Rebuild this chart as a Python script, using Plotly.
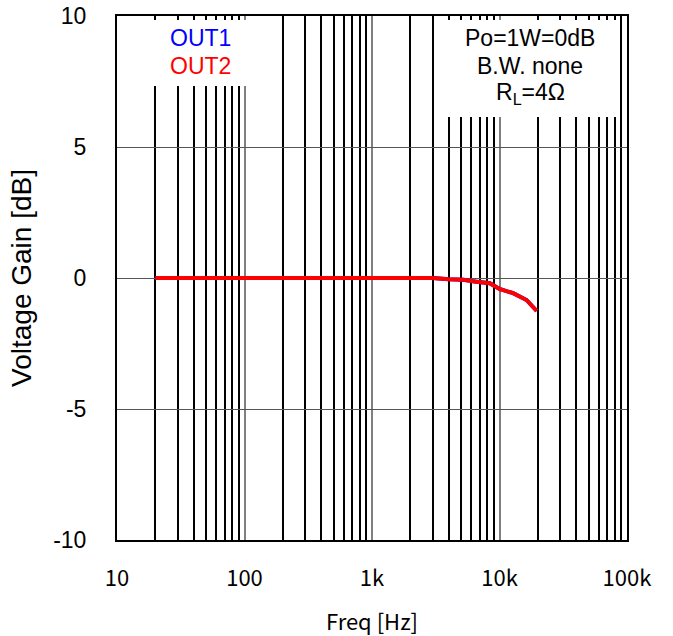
import plotly.graph_objects as go

# Data
freq_hz = [20, 50, 100, 200, 500, 1000, 2000, 3000, 4000, 5200, 6600, 8400, 10000, 12800, 16300, 19600]
gain_out1_db = [0, 0, 0, 0, 0, 0, 0, 0, -0.05, -0.07, -0.14, -0.2, -0.42, -0.58, -0.84, -1.26]
gain_out2_db = [0, 0, 0, 0, 0, 0, 0, 0, -0.05, -0.07, -0.14, -0.2, -0.42, -0.58, -0.84, -1.26]

x_tickvals = [10, 100, 1000, 10000, 100000]
x_ticktext = ["10", "100", "1k", "10k", "100k"]
y_tickvals = [-10, -5, 0, 5, 10]
y_ticktext = ["-10", "-5", "0", "5", "10"]

fig = go.Figure()
fig.add_trace(go.Scatter(x=freq_hz, y=gain_out1_db, mode="lines", name="OUT1",
                         line=dict(color="blue", width=4)))
fig.add_trace(go.Scatter(x=freq_hz, y=gain_out2_db, mode="lines", name="OUT2",
                         line=dict(color="red", width=4)))

# plot area in screen pixels
PL, PR, PT, PB = 117, 627, 16, 540
W, H = PR - PL, PB - PT


def px(x):
    return (x - PL) / W


def py(y):
    return (PB - y) / H


# white boxes covering the grid behind the legend and the note
fig.add_shape(type="rect", xref="paper", yref="paper", x0=px(119), x1=px(249), y0=py(86), y1=py(20),
              fillcolor="white", line=dict(width=0), layer="above")
fig.add_shape(type="rect", xref="paper", yref="paper", x0=px(437), x1=px(619), y0=py(117), y1=py(20),
              fillcolor="white", line=dict(width=0), layer="above")

legend_font = dict(family="Liberation Sans, Arial, sans-serif", size=23)
fig.add_annotation(xref="paper", yref="paper", x=px(200), y=py(38), text="OUT1",
                   showarrow=False, font=dict(color="blue", **legend_font), xanchor="center", yanchor="middle")
fig.add_annotation(xref="paper", yref="paper", x=px(200), y=py(66), text="OUT2",
                   showarrow=False, font=dict(color="red", **legend_font), xanchor="center", yanchor="middle")
note_lines = ["Po=1W=0dB", "B.W. none", "R<sub>L</sub>=4Ω"]
for i, t in enumerate(note_lines):
    fig.add_annotation(xref="paper", yref="paper", x=px(530), y=py(38 + 28 * i),
                       text=t, showarrow=False, xanchor="center", yanchor="middle",
                       font=dict(color="black", family="Liberation Sans, Arial, sans-serif", size=23))

fig.update_layout(
    width=673, height=636,
    margin=dict(l=PL, r=673 - PR, t=PT, b=636 - PB, autoexpand=False),
    paper_bgcolor="white", plot_bgcolor="white",
    showlegend=False,
    xaxis=dict(
        type="log", range=[1, 5], automargin=False,
        tickmode="array", tickvals=x_tickvals, ticktext=x_ticktext,
        ticks="", ticklabelstandoff=18, ticklabeloverflow="allow",
        showgrid=True, gridcolor="#808080", gridwidth=2,
        minor=dict(dtick="D1", showgrid=True, gridcolor="black", gridwidth=2, ticks=""),
        showline=True, linecolor="black", linewidth=2, mirror=True,
        zeroline=False,
        tickfont=dict(family="Noto Sans CJK JP, sans-serif", size=22, color="black"),
        title=dict(text="Freq [Hz]", standoff=23,
                   font=dict(family="Noto Sans CJK JP, sans-serif", size=22, color="black")),
    ),
    yaxis=dict(
        range=[-10, 10], tickmode="array", tickvals=y_tickvals, ticktext=y_ticktext,
        automargin=False,
        ticks="", ticklabelstandoff=24, ticklabeloverflow="allow",
        showgrid=True, gridcolor="#555555", gridwidth=1,
        showline=True, linecolor="black", linewidth=2, mirror=True,
        zeroline=False,
        tickfont=dict(family="Liberation Sans, Arial, sans-serif", size=23, color="black"),
        title=dict(text="Voltage Gain [dB]", standoff=13,
                   font=dict(family="Liberation Sans, Arial, sans-serif", size=28, color="black")),
    ),
)

fig.write_html("out.html", config={"displayModeBar": False},
               post_script="document.body.style.margin='0px';")
